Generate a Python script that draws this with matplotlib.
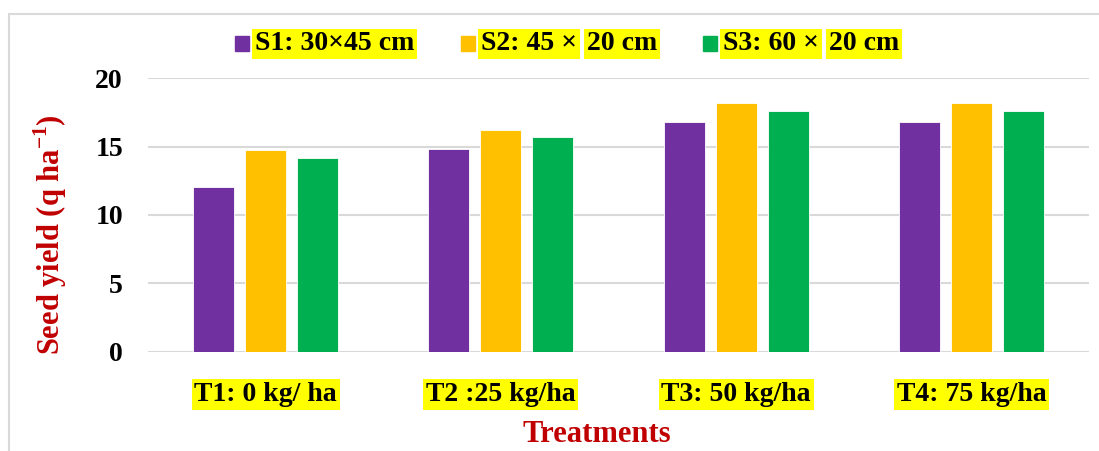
import matplotlib
matplotlib.use("Agg")
import matplotlib.pyplot as plt
import numpy as np
from matplotlib.patches import Rectangle

# data
treatments = ["T1: 0 kg/ ha", "T2 :25 kg/ha", "T3: 50 kg/ha", "T4: 75 kg/ha"]
s1 = [12.05, 14.85, 16.8, 16.8]
s2 = [14.75, 16.2, 18.2, 18.2]
s3 = [14.2, 15.7, 17.6, 17.6]
legend_parts = [["S1: 30×45 cm"], ["S2: 45 ×", "20 cm"], ["S3: 60 ×", "20 cm"]]
colors = ["#7030A0", "#FFC000", "#00B050"]
yticks = [0, 5, 10, 15, 20]

plt.rcParams['font.family'] = ['Liberation Serif', 'DejaVu Serif']
plt.rcParams['font.weight'] = 'bold'
plt.rcParams['mathtext.fontset'] = 'custom'
plt.rcParams['mathtext.rm'] = 'Liberation Serif'
plt.rcParams['mathtext.bf'] = 'Liberation Serif:bold'

W, H = 1099, 451
fig = plt.figure(figsize=(W / 100, H / 100), dpi=100)
ax = fig.add_axes([148 / W, 1 - 351.7 / H, (1089 - 148) / W, (351.7 - 78.3) / H])

x = np.arange(len(treatments))
step = 0.221
width = 0.175
for i, vals in enumerate([s1, s2, s3]):
    ax.bar(x + (i - 1) * step, vals, width, color=colors[i], edgecolor='white',
           linewidth=0.6, zorder=3)

ax.set_xlim(-0.5, len(treatments) - 0.5)
ax.set_ylim(0, 20)
ax.set_yticks(yticks)
ax.set_yticklabels([str(v) for v in yticks], fontsize=20, fontweight='bold')
ax.set_xticks(x)
ax.set_xticklabels(treatments, fontsize=20, fontweight='bold')
for lbl in ax.get_xticklabels():
    lbl.set_bbox(dict(facecolor='#FFFF00', edgecolor='none', pad=2))
ax.tick_params(axis='both', length=0)
ax.tick_params(axis='y', pad=18)
ax.tick_params(axis='x', pad=22)
ax.grid(axis='y', color='#D9D9D9', linewidth=1.5, zorder=0)
for sp in ax.spines.values():
    sp.set_visible(False)

fig.text(50 / W, 1 - 235 / H, "Seed yield (q ha$^{\\mathbf{-1}}$)", rotation=90,
         ha='center', va='center', fontsize=22, fontweight='bold', color='#C00000')
fig.text(597 / W, 1 - 435 / H, "Treatments", ha='center', va='center',
         fontsize=22, fontweight='bold', color='#C00000')

# legend built by hand so the highlight can be split like the original
renderer = fig.canvas.get_renderer()
marker_x = [235, 461, 703]
ly = 1 - 44 / H
for mx, parts, c in zip(marker_x, legend_parts, colors):
    fig.patches.append(Rectangle((mx / W, 1 - 51 / H), 14 / W, 15 / H,
                                 transform=fig.transFigure, color=c))
    px = mx + 20
    for part in parts:
        t = fig.text(px / W, ly, part, ha='left', va='center', fontsize=20,
                     fontweight='bold',
                     bbox=dict(facecolor='#FFFF00', edgecolor='none', pad=2))
        bb = t.get_window_extent(renderer)
        px = bb.x1 + 10

# light border round the chart area
fig.patches.append(Rectangle((9 / W, -0.1), 1.2, 1.1 - 14 / H, transform=fig.transFigure,
                             fill=False, edgecolor='#D9D9D9', linewidth=1.5))

fig.savefig("out.png", dpi=100)
